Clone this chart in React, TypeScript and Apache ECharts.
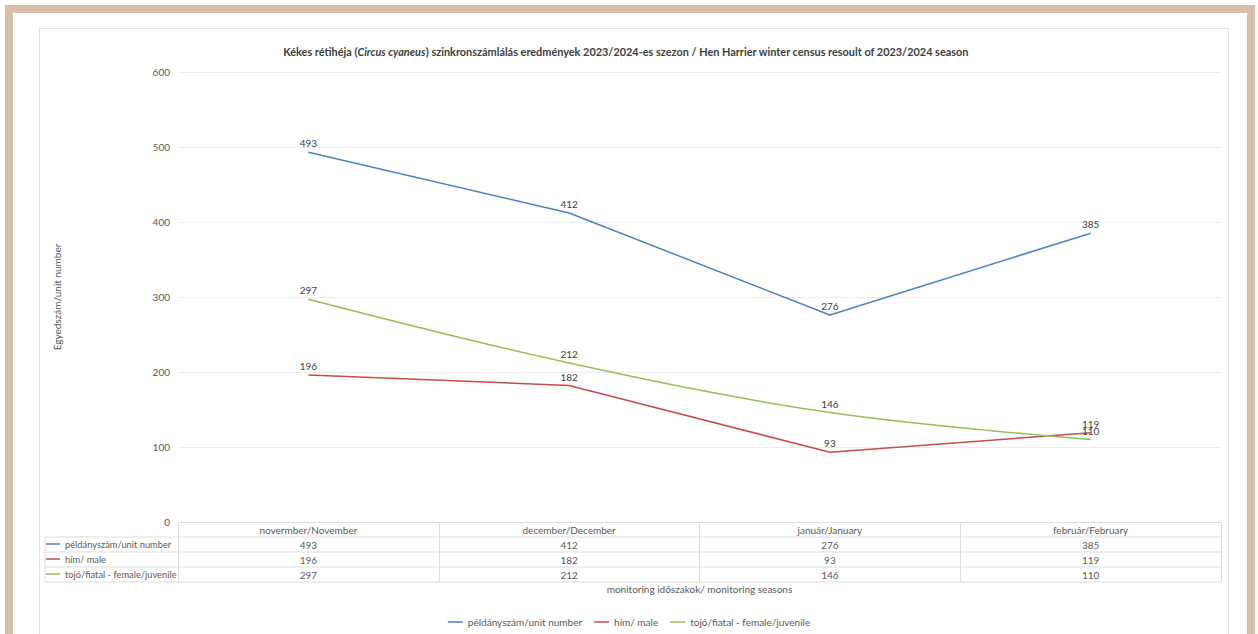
import React, { useEffect, useRef } from "react";
import * as echarts from "echarts";

// Monitoring periods and counts per group
const categories = ["novermber/November", "december/December", "január/January", "február/February"];
const unitNumber = [493, 412, 276, 385];
const male = [196, 182, 93, 119];
const femaleJuvenile = [297, 212, 146, 110];

const seriesNames = ["példányszám/unit number", "hím/ male", "tojó/fiatal - female/juvenile"];
const seriesColors = ["#4F81BD", "#C0504D", "#9BBB59"];
const seriesValues = [unitNumber, male, femaleJuvenile];

const yMin = 0;
const yMax = 600;
const yStep = 100;

// Layout (pixels)
const W = 1258;
const H = 634;
const GRID_LEFT = 178;
const GRID_RIGHT_X = 1221;
const GRID_TOP = 72;
const GRID_BOTTOM_Y = 522;
const ROW_H = 15;
const TABLE_LEFT = 45;

const FONT = "Lato, 'Open Sans', sans-serif";
const TEXT = "#595959";
const LINE = "#dcdcdc";
const FRAME = "#d7bea9";

export default function App() {
  const ref = useRef<HTMLDivElement>(null);

  useEffect(() => {
    if (!ref.current) return;
    const chart = echarts.init(ref.current, undefined, { renderer: "svg" });

    // one hidden category axis per table row, printing that row's values under each period
    const valueAxes = seriesValues.map((vals, k) => ({
      type: "category",
      data: categories,
      position: "bottom",
      offset: ROW_H * (k + 1),
      boundaryGap: true,
      axisLine: { show: false },
      axisTick: { show: false },
      splitLine: { show: false },
      axisLabel: {
        margin: 3,
        fontSize: 10,
        fontFamily: FONT,
        color: TEXT,
        formatter: (_v: string, i: number) => String(vals[i]),
      },
    }));

    const tableLines: any[] = [];
    for (let r = 1; r <= 4; r++) {
      const y = GRID_BOTTOM_Y + r * ROW_H;
      tableLines.push({
        type: "line",
        shape: { x1: TABLE_LEFT, y1: y, x2: GRID_RIGHT_X, y2: y },
        style: { stroke: LINE, lineWidth: 1 },
        silent: true,
      });
    }
    tableLines.push({
      type: "line",
      shape: { x1: TABLE_LEFT, y1: GRID_BOTTOM_Y + ROW_H, x2: TABLE_LEFT, y2: GRID_BOTTOM_Y + 4 * ROW_H },
      style: { stroke: LINE, lineWidth: 1 },
      silent: true,
    });

    chart.setOption({
      animation: false,
      backgroundColor: "#ffffff",
      title: {
        left: 621,
        top: 41,
        textAlign: "center",
        text: "{b|Kékes rétihéja (}{i|Circus cyaneus}{b|) szinkronszámlálás eredmények 2023/2024-es szezon / Hen Harrier winter census resoult of 2023/2024 season}",
        textStyle: {
          rich: {
            b: { fontFamily: FONT, fontSize: 10.9, fontWeight: "bold", color: "#404040" },
            i: { fontFamily: FONT, fontSize: 10.9, fontWeight: "bold", fontStyle: "italic", color: "#404040" },
          },
        },
      },
      legend: [
        {
          data: seriesNames,
          orient: "horizontal",
          left: "center",
          top: 617,
          padding: 0,
          icon: "rect",
          itemWidth: 15,
          itemHeight: 1.5,
          itemGap: 12,
          textStyle: { fontFamily: FONT, fontSize: 10, color: TEXT },
        },
        {
          data: seriesNames,
          orient: "vertical",
          left: TABLE_LEFT + 1,
          top: GRID_BOTTOM_Y + ROW_H + 1,
          padding: 0,
          icon: "rect",
          itemWidth: 14,
          itemHeight: 1.5,
          itemGap: 3,
          textStyle: { fontFamily: FONT, fontSize: 9.3, color: TEXT, lineHeight: 12 },
        },
      ],
      grid: {
        left: GRID_LEFT,
        right: W - GRID_RIGHT_X,
        top: GRID_TOP,
        bottom: H - GRID_BOTTOM_Y,
        containLabel: false,
      },
      xAxis: [
        {
          type: "category",
          data: categories,
          position: "bottom",
          boundaryGap: true,
          axisLine: { show: true, lineStyle: { color: LINE, width: 1 } },
          axisTick: { show: true, length: ROW_H * 4, lineStyle: { color: LINE, width: 1 } },
          splitLine: { show: false },
          axisLabel: { margin: 3, fontSize: 10, fontFamily: FONT, color: TEXT },
          name: "monitoring időszakok/ monitoring seasons",
          nameLocation: "middle",
          nameGap: 62,
          nameTextStyle: { fontFamily: FONT, fontSize: 10, color: TEXT },
        },
        ...valueAxes,
      ],
      yAxis: {
        type: "value",
        min: yMin,
        max: yMax,
        interval: yStep,
        axisLine: { show: false },
        axisTick: { show: false },
        splitLine: { lineStyle: { color: "#ececec", width: 1 } },
        axisLabel: { margin: 8, fontSize: 10, fontFamily: FONT, color: TEXT },
        name: "Egyedszám/unit number",
        nameLocation: "middle",
        nameRotate: 90,
        nameGap: 116,
        nameTextStyle: { fontFamily: FONT, fontSize: 10, color: TEXT },
      },
      series: seriesNames.map((name, k) => ({
        name,
        type: "line",
        xAxisIndex: 0,
        data: seriesValues[k],
        symbol: "circle",
        symbolSize: 0,
        showSymbol: true,
        smooth: k === 2 ? 0.35 : false,
        lineStyle: { color: seriesColors[k], width: 1.5 },
        itemStyle: { color: seriesColors[k] },
        label: {
          show: true,
          position: "top",
          distance: 4,
          fontFamily: FONT,
          fontSize: 10,
          color: "#404040",
        },
        labelLayout: { hideOverlap: false },
      })),
      graphic: [
        {
          type: "rect",
          shape: { x: 9, y: 9, width: 1242, height: 640 },
          style: { fill: "none", stroke: FRAME, lineWidth: 8 },
          silent: true,
        },
        {
          type: "rect",
          shape: { x: 39.5, y: 28.5, width: 1189, height: 620 },
          style: { fill: "none", stroke: "#e4e4e4", lineWidth: 1 },
          silent: true,
        },
        ...tableLines,
      ],
    });

    return () => chart.dispose();
  }, []);

  return (
    <div
      ref={ref}
      style={{ position: "fixed", left: 0, top: 0, width: W, height: H, background: "#ffffff" }}
    />
  );
}
